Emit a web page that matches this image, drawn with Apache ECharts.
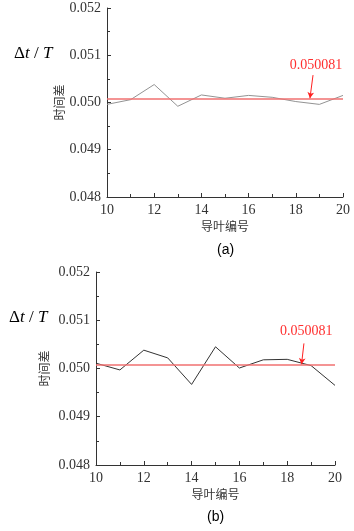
<!DOCTYPE html>
<html>
<head>
<meta charset="utf-8">
<script src="https://cdn.jsdelivr.net/npm/echarts@6/dist/echarts.min.js"></script>
<style>
  html, body { margin: 0; padding: 0; background: #fff; }
  #chart { width: 354px; height: 531px; }
</style>
</head>
<body>
<div id="chart"></div>
<script>
// 导叶编号 10..20
const vaneNo = [10, 11, 12, 13, 14, 15, 16, 17, 18, 19, 20]
const diffA = [0.04996, 0.05006, 0.05038, 0.04992, 0.05016, 0.05009, 0.05015, 0.05011, 0.05002, 0.04996, 0.05015]
const diffB = [0.05011, 0.04997, 0.05038, 0.05022, 0.04967, 0.05045, 0.05001, 0.05018, 0.05019, 0.05006, 0.04965]
const meanValue = 0.050081
// 标注箭头 (数据坐标)
const arrowA = [[18.73, 0.05058], [18.6, 0.05009]]
const arrowB = [[18.7, 0.05052], [18.6, 0.05009]]
const labelPosA = [18.86, 0.05078]
const labelPosB = [18.8, 0.05078]

const chart = echarts.init(document.getElementById('chart'))

const serif = 'Liberation Serif'
const cjk = 'Noto Sans CJK SC'

function xAxisFor(gridIndex) {
  return {
    type: 'value', gridIndex, min: 10, max: 20, interval: 2,
    name: '导叶编号', nameLocation: 'middle', nameGap: 23,
    nameTextStyle: { fontFamily: cjk, fontSize: 12, color: '#333' },
    axisLine: { lineStyle: { color: '#333', width: 1 } },
    axisTick: { inside: true, length: 4, lineStyle: { color: '#333' } },
    minorTick: { show: true, splitNumber: 2, length: 3, lineStyle: { color: '#333' } },
    axisLabel: { fontFamily: serif, fontSize: 14, color: '#333', margin: 6 },
    splitLine: { show: false }
  }
}

function yAxisFor(gridIndex, gap) {
  return {
    type: 'value', gridIndex, min: 0.048, max: 0.052, interval: 0.001,
    name: '时间差', nameLocation: 'middle', nameGap: gap, nameRotate: 90,
    nameMoveOverlap: false,
    nameTextStyle: { fontFamily: cjk, fontSize: 12, color: '#333' },
    axisLine: { show: true, lineStyle: { color: '#333', width: 1 } },
    axisTick: { show: true, inside: true, length: 4, lineStyle: { color: '#333' } },
    minorTick: { show: true, splitNumber: 2, length: 3, lineStyle: { color: '#333' } },
    axisLabel: { fontFamily: serif, fontSize: 14, color: '#333', margin: 6,
      formatter: v => v.toFixed(3) },
    splitLine: { show: false }
  }
}

function seriesFor(idx, values, color, arrow, labelPos) {
  return [
    {
      type: 'line', xAxisIndex: idx, yAxisIndex: idx,
      data: vaneNo.map((x, i) => [x, values[i]]),
      showSymbol: false, symbol: 'none',
      lineStyle: { color, width: 1 },
      z: 3,
      markLine: {
        silent: true, symbol: 'none', precision: 6,
        lineStyle: { color: '#f07070', width: 1.6, type: 'solid' },
        label: { show: false },
        data: [{ yAxis: meanValue }]
      },
      markPoint: {
        silent: true, symbol: 'circle', symbolSize: 1,
        itemStyle: { color: 'rgba(0,0,0,0)' },
        label: { show: true, position: 'inside', formatter: String(meanValue), color: '#ff3030',
          fontFamily: serif, fontSize: 14 },
        data: [{ coord: labelPos }]
      }
    },
    {
      type: 'line', xAxisIndex: idx, yAxisIndex: idx,
      data: [], z: 4,
      markLine: {
        silent: true, symbol: ['none', 'arrow'], symbolSize: [5, 6], precision: 6,
        lineStyle: { color: '#ff2020', width: 1, type: 'solid' },
        label: { show: false },
        data: [[{ coord: arrow[0] }, { coord: arrow[1] }]]
      }
    }
  ]
}

const deltaTitle = (top, left) => ({
  left, top,
  text: '{d|Δ}{i|t}{d| / }{i|T}',
  textStyle: {
    rich: {
      d: { fontFamily: serif, fontSize: 17, fontWeight: 'normal', color: '#000' },
      i: { fontFamily: serif, fontSize: 17, fontWeight: 'normal', fontStyle: 'italic', color: '#000' }
    }
  }
})

const caption = (top, left, text) => ({
  left, top, text,
  textStyle: { fontFamily: 'Liberation Sans', fontSize: 14, fontWeight: 'normal', color: '#000' }
})

chart.setOption({
  animation: false,
  backgroundColor: '#fff',
  title: [
    deltaTitle(40, 9),
    deltaTitle(304, 4),
    caption(238, 212, '(a)'),
    caption(505, 202, '(b)')
  ],
  grid: [
    { left: 107, top: 8, width: 236, height: 189 },
    { left: 96, top: 272, width: 239, height: 193 }
  ],
  xAxis: [xAxisFor(0), xAxisFor(1)],
  yAxis: [yAxisFor(0, 42), yAxisFor(1, 46)],
  series: [
    ...seriesFor(0, diffA, '#939393', arrowA, labelPosA),
    ...seriesFor(1, diffB, '#333333', arrowB, labelPosB)
  ]
})
</script>
</body>
</html>
